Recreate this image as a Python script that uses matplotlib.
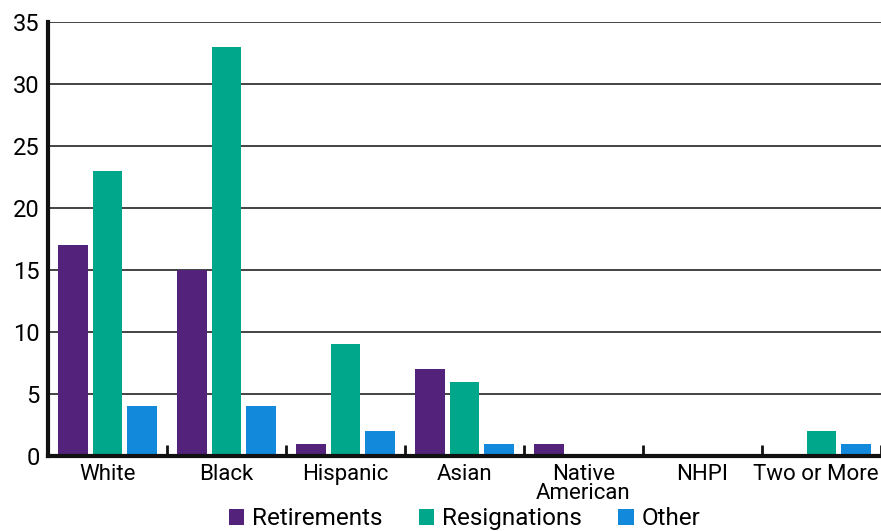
import numpy as np
import matplotlib.pyplot as plt
from matplotlib.ticker import FixedLocator
from matplotlib.transforms import ScaledTranslation

plt.rcParams['font.family'] = ['Roboto', 'DejaVu Sans']

# separations by race/ethnicity
categories = ['White', 'Black', 'Hispanic', 'Asian', 'Native\nAmerican', 'NHPI', 'Two or More']
retirements = [17, 15, 1, 7, 1, 0, 0]
resignations = [23, 33, 9, 6, 0, 0, 2]
other = [4, 4, 2, 1, 0, 0, 1]

series = [('Retirements', retirements, '#53237b'),
          ('Resignations', resignations, '#00a78a'),
          ('Other', other, '#1389db')]

fig = plt.figure(figsize=(8.81, 5.31), dpi=100)
ax = fig.add_axes([48 / 881, 1 - 456 / 531, 1 - 48 / 881, (456 - 22) / 531])

x = np.arange(len(categories))
step = 0.29
width = 0.245
for i, (name, vals, col) in enumerate(series):
    ax.bar(x + (i - 1) * step, vals, width, color=col, label=name, linewidth=0, zorder=2)

ax.set_xlim(-0.5, len(categories) - 0.5)
ax.set_ylim(0, 35)
ax.set_yticks(range(0, 36, 5))
ax.yaxis.grid(True, color='#111111', linewidth=1.1, zorder=1)
ax.set_axisbelow(True)

ax.set_xticks(x)
ax.set_xticklabels(categories, fontsize=16, linespacing=0.85)
ax.tick_params(axis='x', which='major', length=0, pad=6)
ax.xaxis.set_minor_locator(FixedLocator(np.arange(0.5, len(categories), 1)))
ax.tick_params(axis='x', which='minor', direction='in', length=8, width=2, color='#111111')
ax.tick_params(axis='y', length=0, labelsize=17, pad=6)

# nudge the last label so it stays inside the figure
last = ax.get_xticklabels()[-1]
last.set_transform(last.get_transform() + ScaledTranslation(-6 / 100, 0, fig.dpi_scale_trans))

for s in ['top', 'right']:
    ax.spines[s].set_visible(False)
for s in ['left', 'bottom']:
    ax.spines[s].set_linewidth(3)
    ax.spines[s].set_color('#111111')
    ax.spines[s].set_zorder(3)

fig.legend(loc='lower center', bbox_to_anchor=(0.527, -0.04), ncol=3, frameon=False,
           fontsize=17.5, handlelength=0.65, handleheight=0.65, handletextpad=0.3,
           columnspacing=1.5)

fig.savefig('out.png', dpi=100)
